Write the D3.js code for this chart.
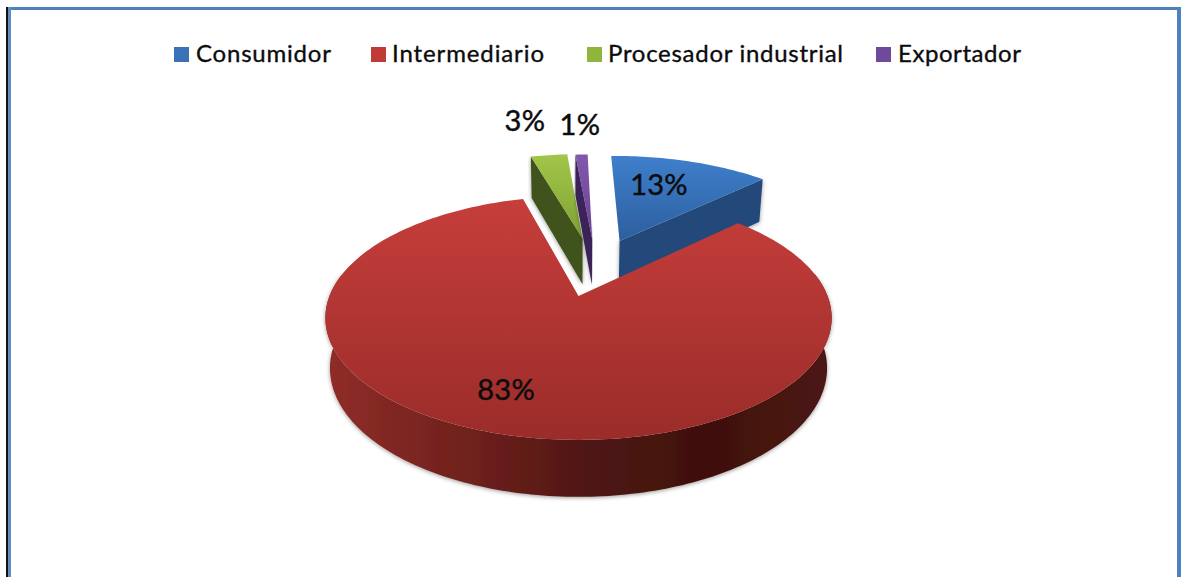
<!DOCTYPE html>
<html>
<head>
<meta charset="utf-8">
<style>
html,body{margin:0;padding:0;background:#fff;overflow:hidden}
svg{display:block}
text{font-family:Lato,"Open Sans",sans-serif;fill:#0c0c0c;stroke:#0c0c0c}
</style>
<script src="https://cdn.jsdelivr.net/npm/d3@7/dist/d3.min.js"></script>
</head>
<body>
<script>
// Destination of the product, share of sales (%)
const categories = ["Consumidor", "Intermediario", "Procesador industrial", "Exportador"];
const shares = [13, 83, 3, 1];
const shareLabels = ["13%", "83%", "3%", "1%"];

// Colours per slice
const topLight = ["#3f7fcc", "#c63e3b", "#a2c64a", "#8257ad"];
const topDark = ["#2c5f9e", "#9a2c29", "#7ea233", "#6a4393"];
const wallColor = ["#24497a", "#5a1917", "#40531a", "#3a2458"];
const swatchColor = ["#3a72b8", "#c03a37", "#90b53d", "#6f4a9c"];

// Explosion of each slice on the pie's plane, in pie radii
const explodeU = [0.18, 0, 0.018, 0.06];
const explodeV = [-0.51, 0, -0.535, -0.53];
// Label placement: radius from slice apex, and turn from the slice bisector (degrees)
const labelRadius = [0.669, 0.73, 1.547, 1.461];
const labelTurn = [-4.35, 5, -1.9, 0.5];

// Legend layout
const legendSwatchX = [174, 371, 587, 876];
const legendTextX = [196, 392, 608, 898];
const legendTextWidth = [135, 152, 235, 123];

const W = 1181, H = 577;
const svg = d3.select("body").append("svg").attr("width", W).attr("height", H);
const defs = svg.append("defs");

// Perspective projection of the unit disc, for the top and bottom planes
const k = 0.18;
const planes = {
  top: {x0: 578.5, y0: 296, a: 249, b: 118},
  bottom: {x0: 578.5, y0: 345, a: 244.5, b: 124.5}
};
function project(p, u, v) {
  const w = 1 - k * v;
  return [p.x0 + p.a * u / w, p.y0 + p.b * v / w];
}

// The pie begins slightly left of the back of the disc
const pieStart = -0.75 * Math.PI / 180;
const slices = d3.pie().sort(null).value(d => d)
  .startAngle(pieStart).endAngle(pieStart + 2 * Math.PI)(shares);

// Point on a slice, at polar position (r, angle clockwise from the back of the pie)
function point(plane, i, r, angle) {
  return project(plane, explodeU[i] + r * Math.sin(angle), explodeV[i] - r * Math.cos(angle));
}
function arcPoints(plane, i, a0, a1) {
  const n = Math.max(4, Math.ceil(Math.abs(a1 - a0) / 0.02));
  return d3.range(n + 1).map(j => point(plane, i, 1, a0 + (a1 - a0) * j / n));
}
const line = d3.line();

// Gradients
slices.forEach((s, i) => {
  const ys = arcPoints(planes.top, i, s.startAngle, s.endAngle).map(p => p[1]);
  const apex = point(planes.top, i, 0, 0)[1];
  const g = defs.append("linearGradient").attr("id", "top" + i)
    .attr("gradientUnits", "userSpaceOnUse")
    .attr("x1", 0).attr("x2", 0)
    .attr("y1", Math.min(apex, d3.min(ys))).attr("y2", Math.max(apex, d3.max(ys)));
  g.append("stop").attr("offset", 0).attr("stop-color", topLight[i]);
  g.append("stop").attr("offset", 1).attr("stop-color", topDark[i]);
});
const wallGrad = defs.append("linearGradient").attr("id", "redWall")
  .attr("gradientUnits", "userSpaceOnUse")
  .attr("x1", 328).attr("x2", 830).attr("y1", 0).attr("y2", 0);
[[0, "#8f2d28"], [0.3, "#6d201c"], [0.5, "#521714"], [0.75, "#3f100e"], [1, "#4d1613"]]
  .forEach(([o, c]) => wallGrad.append("stop").attr("offset", o).attr("stop-color", c));

const shadow = defs.append("filter").attr("id", "soft")
  .attr("x", "-5%").attr("y", "-5%").attr("width", "110%").attr("height", "115%");
shadow.append("feDropShadow").attr("dx", 0).attr("dy", 1).attr("stdDeviation", 2.2)
  .attr("flood-color", "#000").attr("flood-opacity", 0.4);

// Panel border
const frame = svg.append("g");
frame.append("rect").attr("x", 6).attr("y", 7).attr("width", 2).attr("height", H - 7).attr("fill", "#111");
frame.append("rect").attr("x", 8).attr("y", 7).attr("width", W - 8).attr("height", 3).attr("fill", "#4f81bd");
frame.append("rect").attr("x", 8).attr("y", 7).attr("width", 3).attr("height", H - 7).attr("fill", "#5f8dc4");
frame.append("rect").attr("x", 1177).attr("y", 7).attr("width", 4).attr("height", H - 7).attr("fill", "#4f81bd");

// Radial side face of a slice, between apex and rim at the given angle
function radialFace(i, angle) {
  return [point(planes.top, i, 0, 0), point(planes.top, i, 1, angle),
          point(planes.bottom, i, 1, angle), point(planes.bottom, i, 0, 0)];
}

// Paint order: back slices first, the large front slice last
const order = [0, 2, 3, 1];
order.forEach(i => {
  const s = slices[i];
  const g = svg.append("g");
  if (i === 1) {
    const a0 = Math.PI * 0.44, a1 = Math.PI * 1.56;
    const wall = arcPoints(planes.top, i, a0, a1)
      .concat(arcPoints(planes.bottom, i, a1, a0));
    g.append("path").attr("d", line(wall) + "Z").attr("fill", "url(#redWall)").attr("filter", "url(#soft)");
  } else {
    // Blue shows its right-hand cut, the two small slices their left-hand cut
    const angle = i === 0 ? s.endAngle : s.startAngle;
    g.append("path").attr("d", line(radialFace(i, angle)) + "Z").attr("fill", wallColor[i]).attr("filter", "url(#soft)");
  }
  const face = [point(planes.top, i, 0, 0)].concat(arcPoints(planes.top, i, s.startAngle, s.endAngle));
  g.append("path").attr("d", line(face) + "Z").attr("fill", `url(#top${i})`);
});

// Percentage labels
slices.forEach((s, i) => {
  const mid = (s.startAngle + s.endAngle) / 2 + labelTurn[i] * Math.PI / 180;
  const [x, y] = point(planes.top, i, labelRadius[i], mid);
  svg.append("text").attr("x", x).attr("y", y)
    .attr("text-anchor", "middle").attr("dominant-baseline", "central")
    .attr("font-size", 29).attr("letter-spacing", 0.3).attr("stroke-width", 0.45)
    .text(shareLabels[i]);
});

// Legend
categories.forEach((c, i) => {
  svg.append("rect").attr("x", legendSwatchX[i]).attr("y", 47).attr("width", 15).attr("height", 15)
    .attr("fill", swatchColor[i]);
  svg.append("text").attr("x", legendTextX[i]).attr("y", 62)
    .attr("font-size", 24).attr("stroke-width", 0.35)
    .attr("textLength", legendTextWidth[i]).attr("lengthAdjust", "spacing")
    .text(c);
});
</script>
</body>
</html>
